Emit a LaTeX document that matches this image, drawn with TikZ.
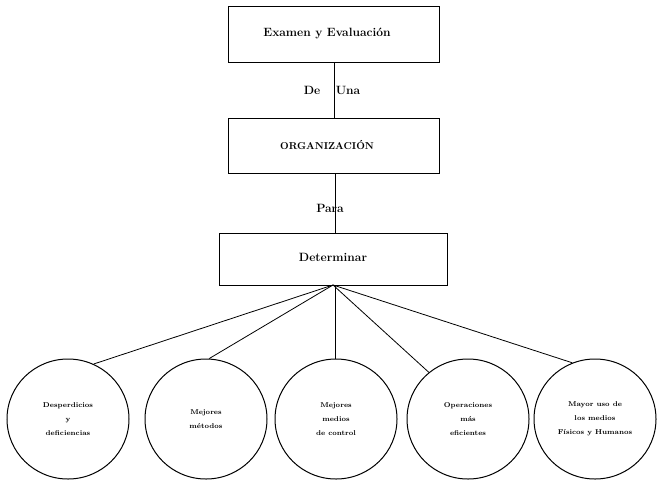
\documentclass[tikz,border=0pt]{standalone}
\usetikzlibrary{shapes.geometric}
\begin{document}
\begin{tikzpicture}[x=1pt,y=-1pt,
  box/.style={draw,line width=0.8pt,rectangle,inner sep=0pt},
  leaf/.style={draw,line width=1pt,ellipse,inner sep=0pt,minimum width=122pt,minimum height=120pt,
    align=center,font=\fontsize{7}{14}\selectfont\bfseries},
  lbl/.style={font=\fontsize{12}{14}\selectfont\bfseries},
  link/.style={line width=0.8pt}]
\useasboundingbox (0,0) rectangle (660,480);
\fill[white] (0,0) rectangle (660,480);

% top chain of boxes
\node[box,minimum width=211pt,minimum height=56pt] (exam) at (333.5,34) {};
\node[lbl] (examtxt) at (327,33) {Examen y Evaluación};
\node[box,minimum width=211pt,minimum height=55pt] (org) at (333.5,145.5) {};
\node[font=\fontsize{10}{12}\selectfont\bfseries] (orgtxt) at (327,145) {ORGANIZACIÓN};
\node[box,minimum width=228pt,minimum height=52pt] (det) at (333,259) {};
\node[lbl] (dettxt) at (333,257) {Determinar};

\draw[link] (exam.south -| 334,0) -- (org.north -| 334,0);
\draw[link] (org.south -| 335,0) -- (det.north -| 335,0);

\node[lbl] (de) at (312,90) {De};
\node[lbl] (una) at (348,90) {Una};
\node[lbl] (para) at (330,208) {Para};

% result ellipses
\node[leaf] (c1) at (68,419) {Desperdicios\\y\\deficiencias};
\node[leaf] (c2) at (206,419) {Mejores\\métodos};
\node[leaf] (c3) at (336,419) {Mejores\\medios\\de control};
\node[leaf] (c4) at (468,419) {Operaciones\\más\\eficientes};
\node[leaf] (c5) at (595,419) {Mayor uso de\\los medios\\Físicos y Humanos};

\coordinate (hub) at (333,285);
\draw[link] (hub) -- (c1.65);
\draw[link] (hub) -- (c2.87);
\draw[link] (hub -| 335,0) -- (c3.north -| 335,0);
\draw[link] (hub) -- (c4.130);
\draw[link] (hub) -- (c5.112);
\end{tikzpicture}
\end{document}
